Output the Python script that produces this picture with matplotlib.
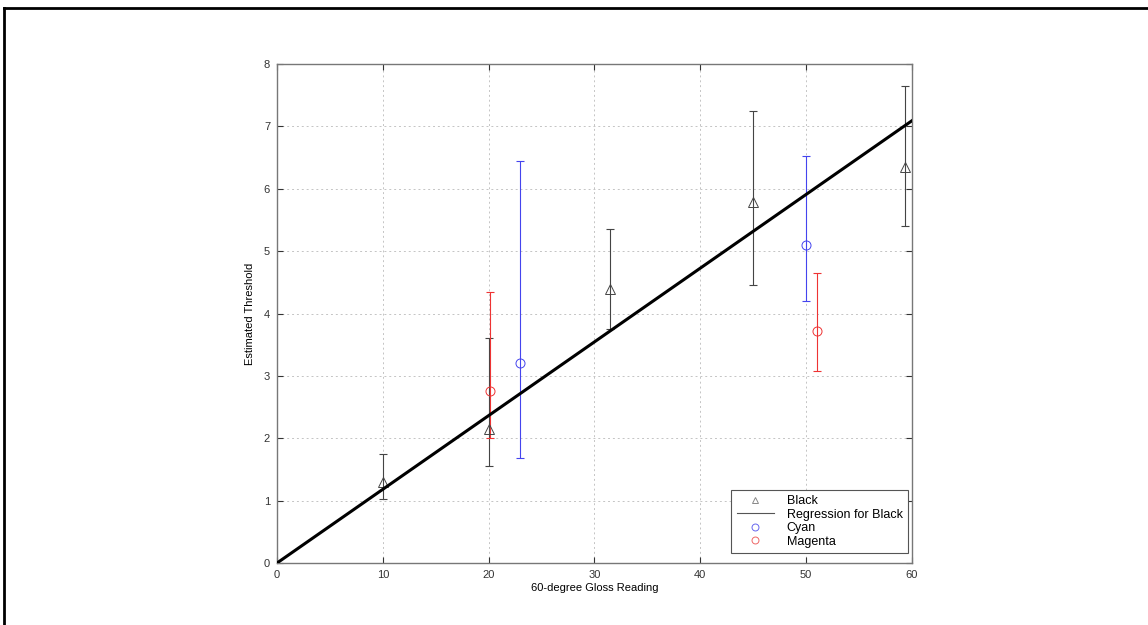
import matplotlib
matplotlib.use("Agg")
import matplotlib.pyplot as plt
import matplotlib.lines as mlines
import numpy as np

plt.rcParams["font.family"] = ["Liberation Sans", "DejaVu Sans"]
plt.rcParams["font.size"] = 8

# black samples
black_x = [10, 20, 31.5, 45, 59.3]
black_y = [1.30, 2.15, 4.40, 5.78, 6.35]
black_lo = [1.02, 1.55, 3.75, 4.45, 5.40]
black_hi = [1.75, 3.60, 5.35, 7.25, 7.65]

# cyan samples
cyan_x = [23, 50]
cyan_y = [3.20, 5.10]
cyan_lo = [1.68, 4.20]
cyan_hi = [6.45, 6.52]

# magenta samples
mag_x = [20.1, 51]
mag_y = [2.75, 3.72]
mag_lo = [2.00, 3.08]
mag_hi = [4.35, 4.65]

# regression through origin for black
bx, by = np.array(black_x), np.array(black_y)
slope = (bx * by).sum() / (bx * bx).sum()
reg_x = np.array([0, 60])

fig = plt.figure(figsize=(11.48, 6.25), dpi=100)
ax = fig.add_axes([0.2413, 0.0992, 0.5531, 0.7984])

def bars(x, y, lo, hi, color, marker):
    y = np.array(y)
    err = [y - np.array(lo), np.array(hi) - y]
    ax.errorbar(x, y, yerr=err, fmt="none", ecolor=color, elinewidth=0.8,
                capsize=3, capthick=0.8, zorder=3)
    ax.plot(x, y, linestyle="None", marker=marker, markersize=6.5,
            markerfacecolor="none", markeredgecolor=color, markeredgewidth=0.7, zorder=4)

bars(black_x, black_y, black_lo, black_hi, "#444444", "^")
bars(cyan_x, cyan_y, cyan_lo, cyan_hi, "#4444ee", "o")
bars(mag_x, mag_y, mag_lo, mag_hi, "#ee3333", "o")
ax.plot(reg_x, slope * reg_x, color="black", lw=2.2, zorder=5)

ax.set_xlim(0, 60)
ax.set_ylim(0, 8)
ax.set_xticks(range(0, 61, 10))
ax.set_yticks(range(0, 9))
ax.grid(True, color="#c4c4c4", linestyle=(0, (2, 3)), linewidth=0.7)
ax.tick_params(direction="in", top=True, right=True, length=4, colors="#333333", pad=5)
for s in ax.spines.values():
    s.set_color("#777777")
    s.set_linewidth(1.0)
ax.set_xlabel("60-degree Gloss Reading", labelpad=2)
ax.set_ylabel("Estimated Threshold", labelpad=6)

handles = [
    mlines.Line2D([], [], color="#888888", marker="^", linestyle="None", markersize=5,
                  markerfacecolor="none", markeredgewidth=0.7, label="Black"),
    mlines.Line2D([], [], color="#555555", lw=0.8, label="Regression for Black"),
    mlines.Line2D([], [], color="#6666ee", marker="o", linestyle="None", markersize=5,
                  markerfacecolor="none", markeredgewidth=0.7, label="Cyan"),
    mlines.Line2D([], [], color="#ee6666", marker="o", linestyle="None", markersize=5,
                  markerfacecolor="none", markeredgewidth=0.7, label="Magenta"),
]
leg = ax.legend(handles=handles, loc="lower right", bbox_to_anchor=(1.0, 0.012),
                fancybox=False, framealpha=1, edgecolor="#555555", fontsize=9,
                handlelength=3.0, labelspacing=0.12, borderpad=0.45, handletextpad=1.0,
                borderaxespad=0.3)
leg.get_frame().set_linewidth(0.8)

# outer frame (top and left edges)
fig.add_artist(mlines.Line2D([0.0035, 0.0035], [0, 0.987], transform=fig.transFigure,
                             color="black", lw=2))
fig.add_artist(mlines.Line2D([0.0035, 1.0], [0.987, 0.987], transform=fig.transFigure,
                             color="black", lw=2))

fig.savefig("out.png", dpi=100)
